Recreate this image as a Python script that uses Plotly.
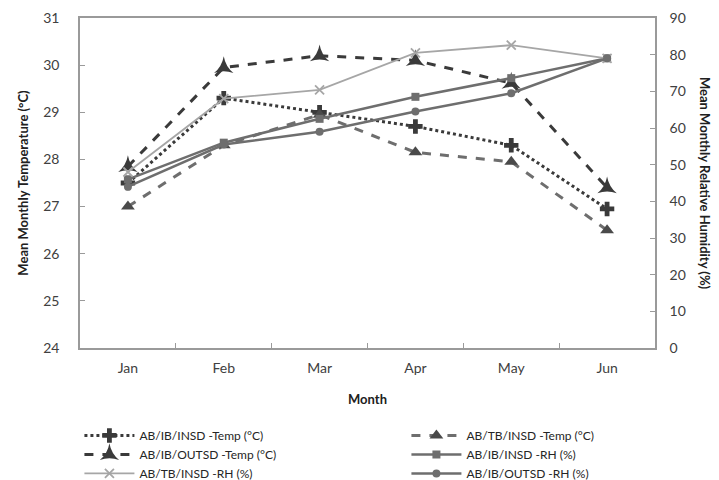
import plotly.graph_objects as go

months = ["Jan", "Feb", "Mar", "Apr", "May", "Jun"]

# Mean monthly temperature (°C)
ib_insd_temp = [27.5, 29.3, 29.0, 28.7, 28.3, 26.95]
tb_insd_temp = [27.0, 28.3, 28.95, 28.15, 27.95, 26.5]
ib_outsd_temp = [27.85, 29.95, 30.2, 30.1, 29.62, 27.4]

# Mean monthly relative humidity (%)
ib_insd_rh = [46.0, 56.0, 62.5, 68.5, 73.6, 79.0]
tb_insd_rh = [48.0, 68.0, 70.4, 80.5, 82.6, 79.0]
ib_outsd_rh = [44.0, 55.5, 59.0, 64.5, 69.5, 79.0]

FONT = "Lato, 'Open Sans', sans-serif"
DARK = "#3a3a3a"
MID = "#6e6e6e"
LIGHT = "#a6a6a6"
AXIS = "#9a9a9a"

fig = go.Figure()

fig.add_trace(go.Scatter(
    x=months, y=ib_insd_temp, name="AB/IB/INSD -Temp (°C)",
    mode="lines+markers",
    line=dict(color=DARK, width=3, dash="dot"),
    marker=dict(symbol="cross", size=12, color=DARK),
))
fig.add_trace(go.Scatter(
    x=months, y=tb_insd_temp, name="AB/TB/INSD -Temp (°C)",
    mode="lines+markers",
    line=dict(color=MID, width=3, dash="dash"),
    marker=dict(symbol="triangle-up", size=12, color="#4a4a4a"),
))
fig.add_trace(go.Scatter(
    x=months, y=ib_outsd_temp, name="AB/IB/OUTSD -Temp (°C)",
    mode="lines+markers",
    line=dict(color=DARK, width=3, dash="dash"),
    marker=dict(symbol="star-triangle-up", size=14, color=DARK),
))
fig.add_trace(go.Scatter(
    x=months, y=ib_insd_rh, name="AB/IB/INSD -RH (%)",
    mode="lines+markers", yaxis="y2",
    line=dict(color=MID, width=2.5),
    marker=dict(symbol="square", size=8, color=MID),
))
fig.add_trace(go.Scatter(
    x=months, y=tb_insd_rh, name="AB/TB/INSD -RH (%)",
    mode="lines+markers", yaxis="y2",
    line=dict(color=LIGHT, width=1.8),
    marker=dict(symbol="x-thin-open", size=9, color=LIGHT,
                line=dict(color=LIGHT, width=1.8)),
))
fig.add_trace(go.Scatter(
    x=months, y=ib_outsd_rh, name="AB/IB/OUTSD -RH (%)",
    mode="lines+markers", yaxis="y2",
    line=dict(color=MID, width=2.5),
    marker=dict(symbol="circle", size=8, color=MID),
))

tick_font = dict(family=FONT, size=14, color="#404040")
title_font = dict(family=FONT, size=13, color="#202020")

fig.update_layout(
    width=719, height=480,
    margin=dict(l=80, r=64, t=18, b=132, autoexpand=False),
    paper_bgcolor="white", plot_bgcolor="white",
    font=dict(family=FONT, size=13, color="#404040"),
    showlegend=True,
    xaxis=dict(
        type="category", range=[-0.5, 5.5], tickson="boundaries",
        ticks="inside", ticklen=5, tickcolor=AXIS,
        showline=True, linecolor=AXIS, linewidth=1.5, mirror=True,
        showgrid=False, tickfont=tick_font, ticklabelstandoff=6,
        title=dict(text="<b>Month</b>", font=title_font, standoff=20),
    ),
    yaxis=dict(
        range=[24, 31], dtick=1, ticks="inside", ticklen=5, tickcolor=AXIS,
        showline=True, linecolor=AXIS, linewidth=1.5,
        showgrid=False, zeroline=False, tickfont=tick_font,
        ticklabelstandoff=16,
        title=dict(text="<b>Mean Monthly Temperature (°C)</b>",
                   font=title_font, standoff=12),
    ),
    yaxis2=dict(
        overlaying="y", side="right",
        range=[0, 90], dtick=10, ticks="inside", ticklen=5, tickcolor=AXIS,
        showline=True, linecolor=AXIS, linewidth=1.5,
        showgrid=False, zeroline=False, tickfont=tick_font,
        ticklabelstandoff=10,
    ),
    legend=dict(
        orientation="h",
        x=-0.001, xanchor="left",
        y=-0.221, yanchor="top",
        entrywidth=262, entrywidthmode="pixels",
        font=dict(family=FONT, size=12, color="#252525"),
        itemwidth=50, tracegroupgap=0,
    ),
    annotations=[dict(
        text="<b>Mean Monthly Relative Humidity (%)</b>",
        xref="paper", yref="paper", x=1.0, xshift=50, y=0.5,
        textangle=90, showarrow=False, xanchor="center", yanchor="middle",
        font=title_font,
    )],
)

fig.write_html("out.html")
